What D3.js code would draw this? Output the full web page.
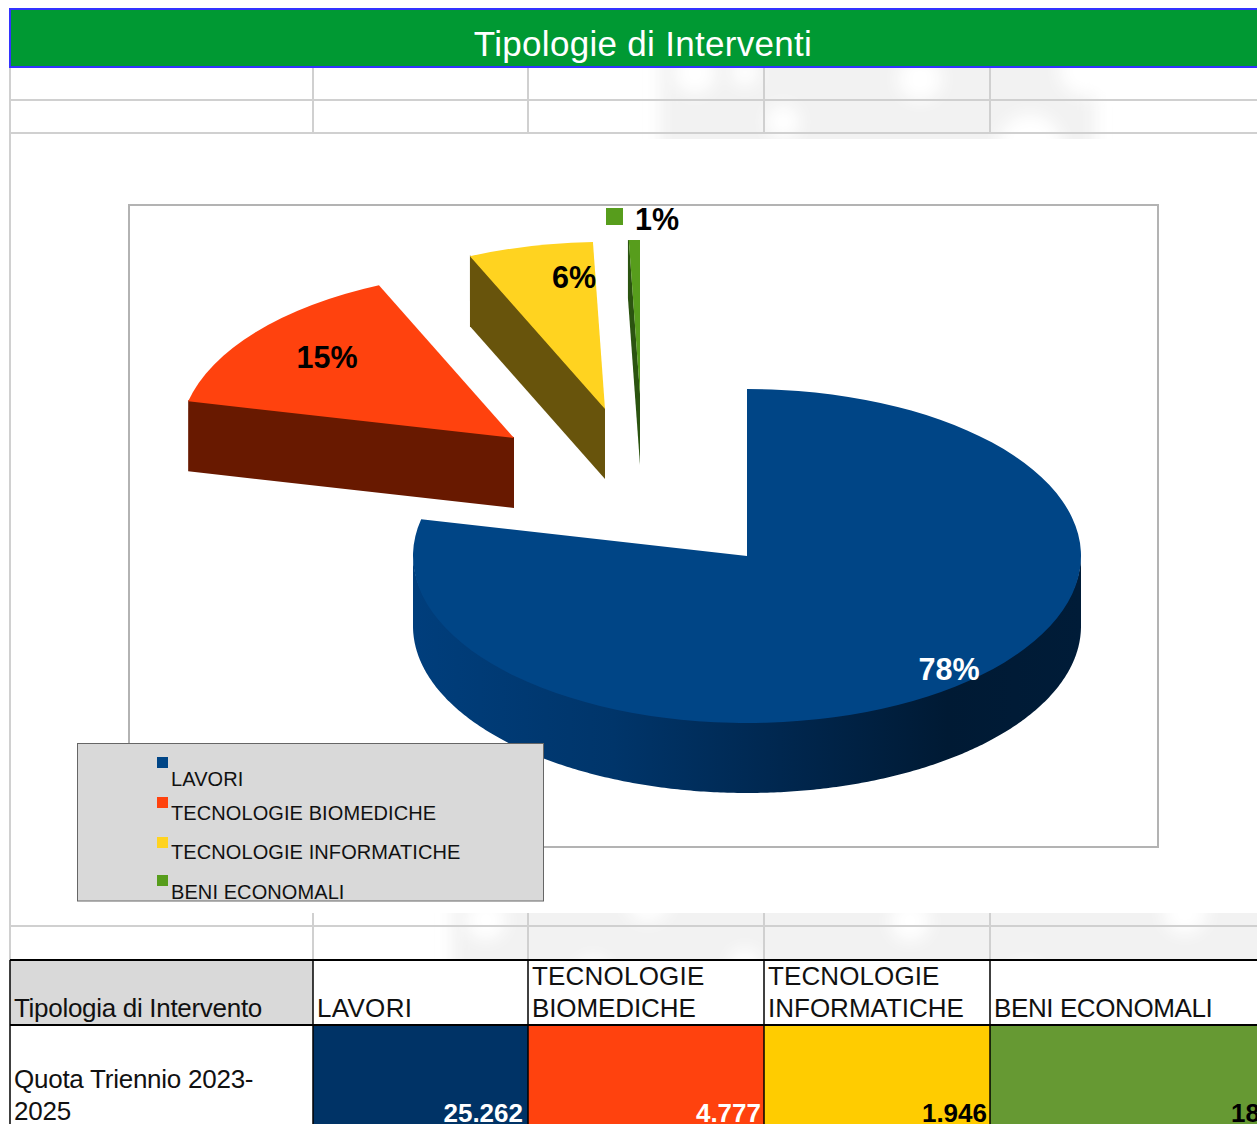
<!DOCTYPE html>
<html>
<head>
<meta charset="utf-8">
<script src="https://cdn.jsdelivr.net/npm/d3@7"></script>
<style>
  html, body { margin: 0; padding: 0; background: #fff; overflow: hidden; }
  text { font-family: "Liberation Sans", Arial, sans-serif; }
</style>
</head>
<body>
<div id="chart"></div>
<script>
// data
var categories = ['LAVORI', 'TECNOLOGIE BIOMEDICHE', 'TECNOLOGIE INFORMATICHE', 'BENI ECONOMALI'];
var values = [25262, 4777, 1946, 185];
var valueLabels = ['25.262', '4.777', '1.946', '185'];
var percentLabels = ['78%', '15%', '6%', '1%'];
var headerLines = [['LAVORI'], ['TECNOLOGIE', 'BIOMEDICHE'], ['TECNOLOGIE', 'INFORMATICHE'], ['BENI ECONOMALI']];
var title = 'Tipologie di Interventi';
var rowTitles = ['Tipologia di Intervento', ['Quota Triennio 2023-', '2025']];

// styles
var topColors = ['#004586', '#ff420e', '#ffd320', '#579d1c'];
var wallColors = [null, '#681900', '#68540c', '#2b5410'];
var cellColors = ['#003366', '#ff420e', '#ffcc00', '#669933'];
var valueColors = ['#fff', '#fff', '#000', '#000'];
var percentColors = ['#fff', '#000', '#000', '#000'];

var W = 1257, H = 1124;
var colX = [10, 313, 528, 764, 990, 1300];
var rx = 334, ry = 167, depth = 70;
var cx = 747, cy = 556;

// how far each slice is pulled away from the pie centre
var explode = [[0, 0], [-233, -118], [-142, -147], [-107, -161]];
var percentPos = [[949, 680], [327, 368], [574, 288], [657, 230]];
var markerPos = [[888, 660], [267, 345], [521, 265], [606, 208]];
var legendKeyY = [757, 797, 837, 875];
var legendTextY = [786, 820, 859, 899];
var headerSpacing = [[0.3], [0.2, -0.1], [0.1, 0], [-0.4]];

var svg = d3.select('#chart').append('svg')
  .attr('width', W)
  .attr('height', H)
  .style('display', 'block');

var defs = svg.append('defs');

defs.append('filter').attr('id', 'blur')
  .attr('filterUnits', 'userSpaceOnUse')
  .attr('x', 0).attr('y', 0).attr('width', W + 100).attr('height', H)
  .append('feGaussianBlur').attr('stdDeviation', 8);

// slice groups are translated to the pie centre, so the gradient is local too
var wallGrad = defs.append('linearGradient')
  .attr('id', 'wallGrad')
  .attr('gradientUnits', 'userSpaceOnUse')
  .attr('x1', -rx).attr('x2', rx).attr('y1', 0).attr('y2', 0);
[[0, '#003e7c'], [0.3, '#00356a'], [0.55, '#00274f'], [0.8, '#001a34'], [1, '#001c38']].forEach(function(s) {
  wallGrad.append('stop').attr('offset', s[0]).attr('stop-color', s[1]);
});

// the top of the sliver is cut off flat in the picture
defs.append('clipPath').attr('id', 'sliceClip')
  .append('rect').attr('x', 0).attr('y', 240).attr('width', W).attr('height', H);
defs.append('clipPath').attr('id', 'legendClip')
  .append('rect').attr('x', 78).attr('y', 744).attr('width', 465).attr('height', 157);

// faint watermark showing through the empty sheet cells
var markBands = [
  { y: 68, h: 71, grey: [[660, 50, 435, 110]],
    holes: [[695, 73, 21], [920, 79, 22], [783, 122, 17], [1030, 146, 32], [745, 72, 14], [1085, 70, 26]] },
  { y: 913, h: 47, grey: [[452, 890, 850, 90]],
    holes: [[486, 920, 20], [648, 900, 22], [910, 921, 20], [1185, 912, 22], [593, 975, 18], [745, 965, 16], [1026, 985, 22]] }
];

markBands.forEach(function(b, i) {
  defs.append('clipPath').attr('id', 'markClip' + i)
    .append('rect').attr('x', 0).attr('y', b.y).attr('width', W).attr('height', b.h);
  var g = svg.append('g').attr('clip-path', 'url(#markClip' + i + ')')
    .append('g').attr('filter', 'url(#blur)');
  g.selectAll('rect').data(b.grey).enter().append('rect')
    .attr('x', function(d) { return d[0]; })
    .attr('y', function(d) { return d[1]; })
    .attr('width', function(d) { return d[2]; })
    .attr('height', function(d) { return d[3]; })
    .attr('fill', '#f2f2f2');
  g.selectAll('circle').data(b.holes).enter().append('circle')
    .attr('cx', function(d) { return d[0]; })
    .attr('cy', function(d) { return d[1]; })
    .attr('r', function(d) { return d[2]; })
    .attr('fill', '#fff');
});

// title band
svg.append('rect')
  .attr('x', 10).attr('y', 9)
  .attr('width', W).attr('height', 58)
  .attr('fill', '#009933')
  .attr('stroke', '#3333ff')
  .attr('stroke-width', 2);
svg.append('text')
  .attr('x', 643).attr('y', 56)
  .attr('text-anchor', 'middle')
  .attr('font-size', 35)
  .attr('letter-spacing', 0.3)
  .attr('fill', '#fff')
  .text(title);

// empty sheet grid
var grid = svg.append('g').attr('stroke', '#d0d0d0').attr('stroke-width', 2).attr('fill', 'none');
[100, 133, 926].forEach(function(y) {
  grid.append('line').attr('x1', 10).attr('x2', W).attr('y1', y).attr('y2', y);
});
grid.append('line').attr('x1', 10).attr('x2', 10).attr('y1', 68).attr('y2', 960);
colX.slice(1, 5).forEach(function(x) {
  grid.append('line').attr('x1', x).attr('x2', x).attr('y1', 68).attr('y2', 133);
  grid.append('line').attr('x1', x).attr('x2', x).attr('y1', 913).attr('y2', 960);
});

// chart frame
svg.append('rect')
  .attr('x', 129).attr('y', 205)
  .attr('width', 1029).attr('height', 642)
  .attr('fill', '#fff')
  .attr('stroke', '#b3b3b3')
  .attr('stroke-width', 2);

// pie
var pie = d3.pie().sort(null).value(function(d) { return d; });
var slices = pie(values);

var arc = d3.arc().innerRadius(0).outerRadius(rx);

var line = d3.line();

function ellipsePoint(a, dy) {
  return [rx * Math.sin(a), -ry * Math.cos(a) + dy];
}

// outer rim of the main slice, only the front half shows
function rimPath(a0, a1) {
  var from = Math.max(a0, Math.PI / 2), to = Math.min(a1, Math.PI * 1.5);
  var angles = d3.range(from, to, 0.01).concat([to]);
  var topEdge = angles.map(function(a) { return ellipsePoint(a, -2); });
  var botEdge = angles.slice().reverse().map(function(a) { return ellipsePoint(a, depth); });
  return line(topEdge.concat(botEdge)) + 'Z';
}

// cut face running from the apex to the outer edge at angle a
function cutPath(a) {
  var p = ellipsePoint(a, 0);
  return line([[0, -1], [p[0], p[1] - 1], [p[0], p[1] + depth], [0, depth]]) + 'Z';
}

var pieG = svg.append('g').attr('clip-path', 'url(#sliceClip)');

var sliceG = pieG.selectAll('.slice')
  .data(slices)
  .enter().append('g')
  .attr('class', 'slice')
  .attr('transform', function(d, i) {
    return 'translate(' + (cx + explode[i][0]) + ',' + (cy + explode[i][1]) + ')';
  });

sliceG.append('path')
  .attr('d', function(d, i) {
    return i === 0 ? rimPath(d.startAngle, d.endAngle) : cutPath(d.startAngle);
  })
  .attr('fill', function(d, i) { return i === 0 ? 'url(#wallGrad)' : wallColors[i]; });

sliceG.append('path')
  .attr('d', arc)
  .attr('transform', 'scale(1,' + (ry / rx) + ')')
  .attr('fill', function(d, i) { return topColors[i]; });

// percent labels and their small keys
svg.selectAll('.pct-key')
  .data(percentLabels.slice(1))
  .enter().append('rect')
  .attr('class', 'pct-key')
  .attr('x', function(d, i) { return markerPos[i + 1][0]; })
  .attr('y', function(d, i) { return markerPos[i + 1][1]; })
  .attr('width', 17).attr('height', 17)
  .attr('fill', function(d, i) { return topColors[i + 1]; });

svg.selectAll('.pct')
  .data(percentLabels)
  .enter().append('text')
  .attr('class', 'pct')
  .attr('x', function(d, i) { return percentPos[i][0]; })
  .attr('y', function(d, i) { return percentPos[i][1]; })
  .attr('text-anchor', 'middle')
  .attr('font-size', 30.5)
  .attr('font-weight', 'bold')
  .attr('fill', function(d, i) { return percentColors[i]; })
  .text(function(d) { return d; });

// legend
svg.append('rect')
  .attr('x', 77.5).attr('y', 743.5)
  .attr('width', 466).attr('height', 157.5)
  .attr('fill', '#d9d9d9')
  .attr('stroke', '#666')
  .attr('stroke-width', 1);

var legend = svg.append('g').attr('clip-path', 'url(#legendClip)');

legend.selectAll('rect')
  .data(categories)
  .enter().append('rect')
  .attr('x', 157)
  .attr('y', function(d, i) { return legendKeyY[i]; })
  .attr('width', 11).attr('height', 11)
  .attr('fill', function(d, i) { return topColors[i]; });

legend.selectAll('text')
  .data(categories)
  .enter().append('text')
  .attr('x', 171)
  .attr('y', function(d, i) { return legendTextY[i]; })
  .attr('font-size', 20)
  .attr('letter-spacing', 0.09)
  .attr('fill', '#111')
  .text(function(d) { return d; });

// table under the chart
var table = svg.append('g');

table.append('rect')
  .attr('x', colX[0]).attr('y', 960)
  .attr('width', colX[1] - colX[0]).attr('height', 65)
  .attr('fill', '#d9d9d9');

table.selectAll('.cell')
  .data(cellColors)
  .enter().append('rect')
  .attr('class', 'cell')
  .attr('x', function(d, i) { return colX[i + 1]; })
  .attr('y', 1025)
  .attr('width', function(d, i) { return colX[i + 2] - colX[i + 1]; })
  .attr('height', H - 1025)
  .attr('fill', function(d) { return d; });

table.append('line').attr('x1', 10).attr('x2', W).attr('y1', 960).attr('y2', 960)
  .attr('stroke', '#000').attr('stroke-width', 2);
table.append('line').attr('x1', 10).attr('x2', W).attr('y1', 1025).attr('y2', 1025)
  .attr('stroke', '#000').attr('stroke-width', 2);
colX.slice(0, 5).forEach(function(x) {
  table.append('line').attr('x1', x).attr('x2', x).attr('y1', 960).attr('y2', H)
    .attr('stroke', '#000').attr('stroke-width', 1.5);
});

var cellFont = 26;

table.append('text')
  .attr('x', 14).attr('y', 1017)
  .attr('font-size', cellFont)
  .attr('letter-spacing', -0.3)
  .attr('fill', '#111')
  .text(rowTitles[0]);

rowTitles[1].forEach(function(t, i) {
  table.append('text')
    .attr('x', 14).attr('y', 1088 + i * 32)
    .attr('font-size', cellFont)
    .attr('letter-spacing', -0.25)
    .attr('fill', '#111')
    .text(t);
});

headerLines.forEach(function(lines, c) {
  lines.forEach(function(t, i) {
    table.append('text')
      .attr('x', colX[c + 1] + 4)
      .attr('y', 1017 - (lines.length - 1 - i) * 32)
      .attr('font-size', cellFont)
      .attr('letter-spacing', headerSpacing[c][i])
      .attr('fill', '#111')
      .text(t);
  });
});

// last value runs past the window edge
table.selectAll('.val')
  .data(valueLabels)
  .enter().append('text')
  .attr('class', 'val')
  .attr('x', function(d, i) { return i === 3 ? 1231 : colX[i + 2] - (i === 0 ? 5 : 3); })
  .attr('y', 1122)
  .attr('text-anchor', function(d, i) { return i === 3 ? 'start' : 'end'; })
  .attr('font-size', cellFont)
  .attr('font-weight', 'bold')
  .attr('fill', function(d, i) { return valueColors[i]; })
  .text(function(d) { return d; });
</script>
</body>
</html>
